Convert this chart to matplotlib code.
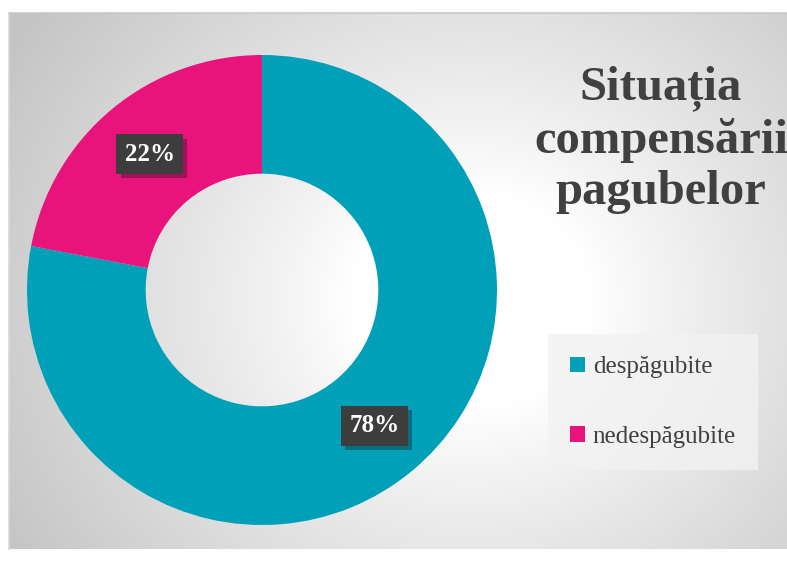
import numpy as np
import matplotlib.pyplot as plt
import matplotlib.patheffects as pe
from matplotlib.patches import Patch

categories = ["despăgubite", "nedespăgubite"]
shares = [78, 22]
colors = ["#00A0B9", "#E8147C"]
title = "Situația\ncompensării\npagubelor"

W, H = 787, 563
fig = plt.figure(figsize=(W / 100, H / 100), dpi=100)
fig.patch.set_facecolor("white")

# background panel with radial gradient
bg = fig.add_axes([0, 0, 1, 1], zorder=0)
bg.set_xlim(0, W)
bg.set_ylim(H, 0)
bg.axis("off")
yy, xx = np.mgrid[0:H, 0:W]
d = np.hypot(xx - 470, (yy - 300) * 1.1)
t = np.clip((d - 120) / 420, 0, 1)
shade = 1.0 - 0.23 * t ** 0.9
img = np.dstack([shade] * 3)
x0, y0, x1, y1 = 9, 13, W, 549
img[:y0, :] = 1
img[y1:, :] = 1
img[:, :x0] = 1
bg.imshow(img, extent=(0, W, H, 0), interpolation="bilinear")
bg.plot([x0, x1], [y0, y0], color="#c8c8c8", lw=1.2)
bg.plot([x0, x0], [y0, y1], color="#d8d8d8", lw=1.2)

# donut
cx, cy, r = 262, 290, 235
ax = fig.add_axes([(cx - r) / W, (H - cy - r) / H, 2 * r / W, 2 * r / H], zorder=1)
wedges, texts, autotexts = ax.pie(
    shares, colors=colors, startangle=90, counterclock=False,
    wedgeprops=dict(width=0.505, edgecolor="none"),
    autopct="%d%%", pctdistance=0.75,
    textprops=dict(color="white", fontsize=18, fontweight="bold",
                   family="Liberation Serif"),
)
for at in autotexts:
    at.set_bbox(dict(boxstyle="square,pad=0.33", facecolor="#3d3d3d",
                     edgecolor="none"))
    at.get_bbox_patch().set_path_effects(
        [pe.SimplePatchShadow(offset=(3, -3), alpha=0.35), pe.Normal()])
ax.set_xlim(-1, 1)
ax.set_ylim(-1, 1)
ax.axis("off")

# title
fig.text(661 / W, 1 - 140 / H, title, ha="center", va="center",
         fontsize=35, fontweight="bold", family="Liberation Serif",
         color="#404040", linespacing=1.2)

# legend
handles = [Patch(facecolor=c, edgecolor="none") for c in colors]
leg = fig.legend(handles, categories, loc="center", bbox_to_anchor=(653 / W, 1 - 402 / H),
                 frameon=True, fancybox=False, handlelength=0.6, handleheight=0.6,
                 handletextpad=0.3, labelspacing=1.9, borderpad=0.9,
                 prop=dict(family="Liberation Serif", size=18))
leg.get_frame().set_facecolor("#f2f2f2")
leg.get_frame().set_edgecolor("none")
leg.get_frame().set_alpha(0.8)
for txt in leg.get_texts():
    txt.set_color("#404040")

fig.savefig("out.png", dpi=100)
